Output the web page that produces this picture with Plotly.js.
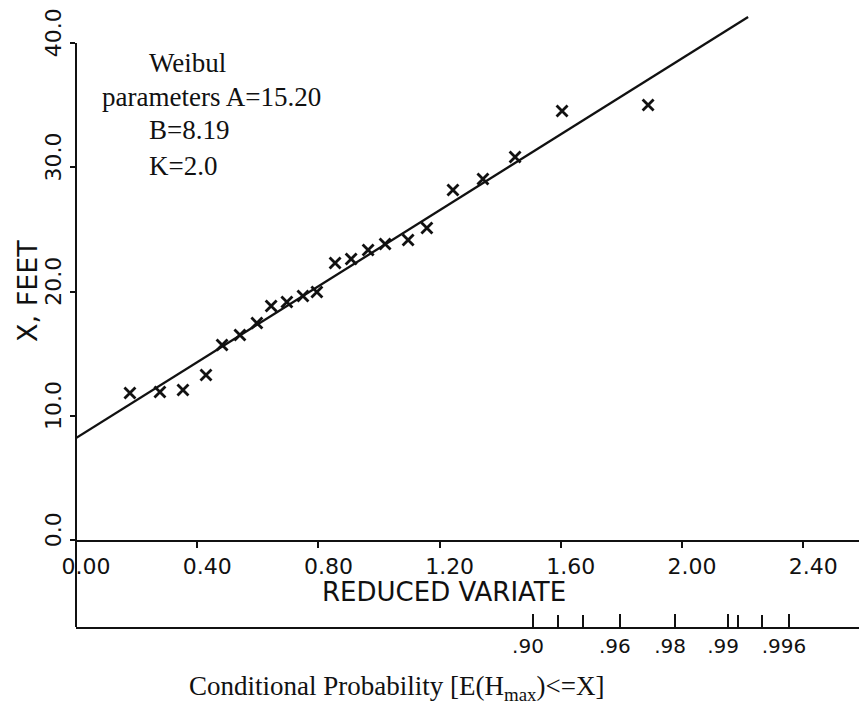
<!DOCTYPE html>
<html>
<head>
<meta charset="utf-8">
<script src="https://cdn.plot.ly/plotly-3.0.1.min.js"></script>
<style>html,body{margin:0;padding:0;background:#fff;}</style>
</head>
<body>
<div id="chart" style="width:859px;height:706px;"></div>
<script>
// Observed data (reduced variate vs X, feet)
const reducedVariate = [0.178, 0.277, 0.353, 0.429, 0.482, 0.541, 0.597, 0.644, 0.696, 0.749, 0.795,
                        0.855, 0.908, 0.964, 1.020, 1.096, 1.158, 1.244, 1.343, 1.449, 1.604, 1.888];
const xFeet = [11.83, 11.91, 12.07, 13.28, 15.69, 16.50, 17.46, 18.83, 19.15, 19.64, 19.96,
               22.29, 22.62, 23.34, 23.82, 24.14, 25.11, 28.17, 29.05, 30.82, 34.53, 35.01];

// Fitted Weibull line
const fitX = [0.0, 2.218];
const fitY = [8.2, 42.09];

// Axis ticks
const xTickVals = [0.0, 0.4, 0.8, 1.2, 1.6, 2.0, 2.4];
const xTickText = ["0.00", "0.40", "0.80", "1.20", "1.60", "2.00", "2.40"];
const yTickVals = [0, 10, 20, 30, 40];
const yTickText = ["0.0", "10.0", "20.0", "30.0", "40.0"];

// Probability scale (positions on reduced variate axis)
const probPos = [1.508, 1.795, 1.977, 2.152, 2.353];
const probText = [".90", ".96", ".98", ".99", ".996"];
const probMinorPos = [1.591, 1.673, 2.185, 2.264];

const ink = "#111";
const sans = "DejaVu Sans, sans-serif";
const serif = "Liberation Serif, Times New Roman, serif";

const traces = [
  {
    x: fitX, y: fitY, type: "scatter", mode: "lines",
    line: {color: ink, width: 2.3}, hoverinfo: "skip", showlegend: false, cliponaxis: false
  },
  {
    x: reducedVariate, y: xFeet, type: "scatter", mode: "markers",
    marker: {symbol: "x-thin", size: 11, color: ink, line: {color: ink, width: 2.8}},
    showlegend: false
  },
  {
    x: [null], y: [null], xaxis: "x2", yaxis: "y2", type: "scatter", mode: "markers",
    showlegend: false, hoverinfo: "skip"
  }
];

const splitY = 87 / 627;

const layout = {
  width: 859, height: 706,
  margin: {l: 76, r: 0, t: 0, b: 79},
  paper_bgcolor: "#fff", plot_bgcolor: "#fff",
  showlegend: false,
  font: {family: sans, color: ink},
  xaxis: {
    anchor: "y", range: [0, 2.584], showgrid: false, zeroline: false,
    showline: true, linecolor: ink, linewidth: 2,
    ticks: "outside", ticklen: 6, tickwidth: 2, tickcolor: ink,
    tickvals: xTickVals, ticktext: xTickText,
    tickfont: {family: sans, size: 22, color: ink},
    ticklabelshift: 10
  },
  yaxis: {
    domain: [splitY, 1], anchor: "x", range: [0, 43.46],
    showgrid: false, zeroline: false, showline: false,
    ticks: "outside", ticklen: 5, tickwidth: 2, tickcolor: ink,
    tickvals: yTickVals, ticktext: yTickText, tickangle: -90,
    tickfont: {family: sans, size: 22, color: ink},
    ticklabelshift: -7
  },
  xaxis2: {
    anchor: "y2", range: [0, 2.584], showgrid: false, zeroline: false,
    showline: true, linecolor: ink, linewidth: 2,
    ticks: "inside", ticklen: 13, tickwidth: 2, tickcolor: ink,
    tickvals: probPos, ticktext: probText,
    tickfont: {family: sans, size: 20, color: ink},
    ticklabelshift: -5,
    minor: {tickmode: "array", tickvals: probMinorPos, ticks: "inside", ticklen: 12,
            tickwidth: 2, tickcolor: ink, showgrid: false}
  },
  yaxis2: {
    domain: [0, splitY], anchor: "x2", range: [0, 1], visible: false,
    showgrid: false, zeroline: false, showline: false, showticklabels: false, ticks: ""
  },
  shapes: [
    {type: "line", xref: "paper", yref: "paper", x0: 0, x1: 0, y0: 0, y1: (627 - 43) / 627,
     line: {color: ink, width: 2}}
  ],
  annotations: [
    {text: "Weibul", xref: "paper", yref: "paper", x: (147 - 76) / 783, y: (627 - 63) / 627,
     xanchor: "left", yanchor: "middle", showarrow: false, font: {family: serif, size: 27, color: ink}},
    {text: "parameters A=15.20", xref: "paper", yref: "paper", x: (100 - 76) / 783, y: (627 - 97) / 627,
     xanchor: "left", yanchor: "middle", showarrow: false, font: {family: serif, size: 27, color: ink}},
    {text: "B=8.19", xref: "paper", yref: "paper", x: (147 - 76) / 783, y: (627 - 130) / 627,
     xanchor: "left", yanchor: "middle", showarrow: false, font: {family: serif, size: 27, color: ink}},
    {text: "K=2.0", xref: "paper", yref: "paper", x: (147 - 76) / 783, y: (627 - 166) / 627,
     xanchor: "left", yanchor: "middle", showarrow: false, font: {family: serif, size: 27, color: ink}},
    {text: "X, FEET", xref: "paper", yref: "paper", x: (27 - 76) / 783, y: (627 - 291) / 627,
     xanchor: "center", yanchor: "middle", textangle: -90, showarrow: false,
     font: {family: sans, size: 27, color: ink}},
    {text: "REDUCED VARIATE", xref: "paper", yref: "paper", x: (444 - 76) / 783, y: (627 - 592) / 627,
     xanchor: "center", yanchor: "middle", showarrow: false, font: {family: sans, size: 26, color: ink}},
    {text: "Conditional Probability [E(H<sub>max</sub>)<=X]", xref: "paper", yref: "paper",
     x: (396 - 76) / 783, y: (627 - 688) / 627,
     xanchor: "center", yanchor: "middle", showarrow: false, font: {family: serif, size: 27, color: ink}}
  ]
};

Plotly.newPlot("chart", traces, layout, {displayModeBar: false, staticPlot: true});
</script>
</body>
</html>
